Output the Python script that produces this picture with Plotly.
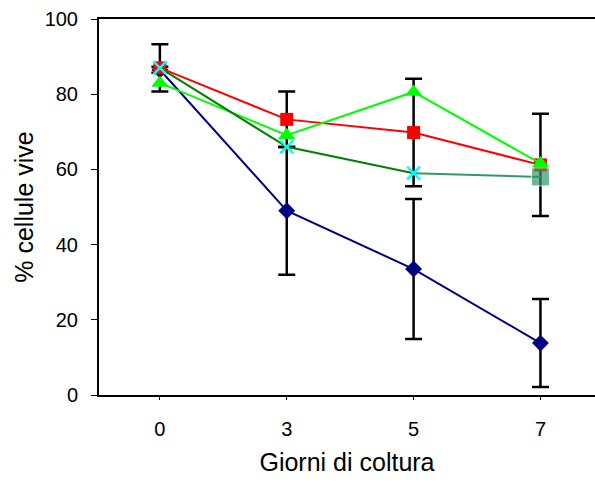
import plotly.graph_objects as go

days = ["0", "3", "5", "7"]
pos = [0, 1, 2, 3]

blue_vals = [86.5, 49.0, 33.5, 13.8]
blue_err = [0.8, 17.0, 18.6, 11.7]

red_vals = [87.0, 73.3, 69.8, 61.2]
red_err = [6.3, 7.4, 14.3, 13.6]

lime_vals = [83.0, 69.1, 80.6, 61.6]

dkgreen_vals = [87.0, 66.0, 59.0]
seagreen_vals = [59.0, 58.0]

fig = go.Figure()

fig.add_trace(go.Scatter(
    x=pos, y=blue_vals, mode="lines+markers",
    line=dict(color="#000080", width=2),
    marker=dict(symbol="diamond", size=13, color="#000080"),
    error_y=dict(type="data", array=blue_err, visible=True, color="black", thickness=2.5, width=8.5),
    showlegend=False))

fig.add_trace(go.Scatter(
    x=pos, y=red_vals, mode="lines+markers",
    line=dict(color="#FF0000", width=2),
    marker=dict(symbol="square", size=13, color="#FF0000"),
    error_y=dict(type="data", array=red_err, visible=True, color="black", thickness=2.5, width=8.5),
    showlegend=False))

fig.add_trace(go.Scatter(
    x=pos, y=lime_vals, mode="lines+markers",
    line=dict(color="#00FF00", width=2),
    marker=dict(symbol="triangle-up", size=15, color="#00FF00"),
    showlegend=False))

fig.add_trace(go.Scatter(
    x=pos[2:], y=seagreen_vals, mode="lines+markers",
    line=dict(color="#339966", width=2),
    marker=dict(symbol="square", size=[0, 18], color="#339966"),
    showlegend=False))

fig.add_trace(go.Scatter(
    x=pos[:3], y=dkgreen_vals, mode="lines+markers",
    line=dict(color="#008000", width=2),
    marker=dict(symbol="x-thin-open", size=13, color="#00FFFF",
                line=dict(color="#00FFFF", width=2.5)),
    showlegend=False))

fig.update_layout(
    width=595, height=482,
    margin=dict(l=99, r=0, t=19, b=87),
    paper_bgcolor="white", plot_bgcolor="white",
    font=dict(family="Liberation Sans, Arial, sans-serif", color="black", size=20),
    xaxis=dict(
        range=[-0.48, 3.43], tickmode="array", tickvals=pos, ticktext=days,
        showline=True, linecolor="black", linewidth=2, mirror=True,
        ticks="outside", ticklen=3, tickcolor="black", tickwidth=1,
        showgrid=False, zeroline=False, ticklabelstandoff=12,
        title=dict(text="Giorni di coltura", font=dict(size=25), standoff=14),
    ),
    yaxis=dict(
        range=[0, 100], tickvals=[0, 20, 40, 60, 80, 100],
        showline=True, linecolor="black", linewidth=2,
        ticks="outside", ticklen=6, tickcolor="black", tickwidth=1,
        showgrid=False, zeroline=False, ticklabelstandoff=9,
        title=dict(text="% cellule vive", font=dict(size=25), standoff=4),
    ),
)

fig.write_html("out.html")
